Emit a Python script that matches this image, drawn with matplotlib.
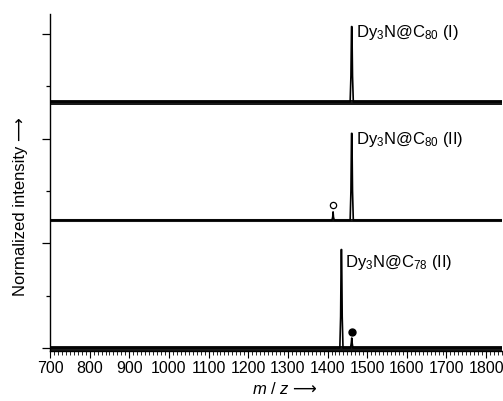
import matplotlib
matplotlib.use("Agg")
import matplotlib.pyplot as plt
from matplotlib.ticker import MultipleLocator

plt.rcParams['font.family'] = ['Liberation Sans', 'DejaVu Sans']
plt.rcParams['mathtext.fontset'] = 'custom'
plt.rcParams['mathtext.rm'] = 'Liberation Sans'
plt.rcParams['mathtext.it'] = 'Liberation Sans:italic'
plt.rcParams['mathtext.sf'] = 'DejaVu Sans'

# Spectra: m/z breakpoints and normalized intensity (offset stacked traces)
mz_c80_1 = [700, 1457, 1459, 1460.5, 1461.5, 1463, 1465, 1840]
int_c80_1 = [2.35, 2.35, 2.60, 3.07, 3.07, 2.60, 2.35, 2.35]

mz_c80_2 = [700, 1411, 1413, 1414, 1415, 1417, 1457, 1459, 1460.5, 1461.5, 1463, 1465, 1840]
int_c80_2 = [1.22, 1.22, 1.25, 1.30, 1.25, 1.22, 1.22, 1.50, 2.05, 2.05, 1.50, 1.22, 1.22]

mz_c78_2 = [700, 1431, 1433, 1434.5, 1435.5, 1437, 1439, 1458, 1460, 1461, 1462, 1464, 1840]
int_c78_2 = [0.0, 0.0, 0.30, 0.94, 0.94, 0.30, 0.0, 0.0, 0.05, 0.095, 0.05, 0.0, 0.0]

baselines = [2.35, 1.22, 0.0]
noise_width = [3.6, 2.2, 3.6]

labels = [r"Dy$_3$N@C$_{80}$ (I)", r"Dy$_3$N@C$_{80}$ (II)", r"Dy$_3$N@C$_{78}$ (II)"]
label_x = [1473, 1473, 1443]
label_y = [3.01, 1.99, 0.82]

marker_open = (1414, 1.37)
marker_filled = (1461, 0.15)

fig = plt.figure(figsize=(5.03, 4.01), dpi=100)
ax = fig.add_axes([0.0994, 0.1247, 0.8986, 0.8403])

for base, lw in zip(baselines, noise_width):
    ax.plot([700, 1840], [base, base], color='#1a1a1a', lw=lw, solid_capstyle='butt')

for mz, inten in [(mz_c80_1, int_c80_1), (mz_c80_2, int_c80_2), (mz_c78_2, int_c78_2)]:
    ax.plot(mz, inten, color='black', lw=1.2)

ax.plot(*marker_open, marker='o', ms=4.5, mfc='white', mec='black', mew=0.9)
ax.plot(*marker_filled, marker='o', ms=5, color='black')

for t, x, y in zip(labels, label_x, label_y):
    ax.text(x, y, t, fontsize=12, va='center', ha='left')

ax.set_xlim(700, 1840)
ax.set_ylim(-0.029, 3.19)
ax.xaxis.set_major_locator(MultipleLocator(100))
ax.xaxis.set_minor_locator(MultipleLocator(10))
ax.yaxis.set_major_locator(MultipleLocator(1))
ax.yaxis.set_minor_locator(MultipleLocator(0.5))
ax.set_yticklabels([])
ax.tick_params(axis='y', which='major', direction='out', length=6, width=0.9)
ax.tick_params(axis='y', which='minor', direction='out', length=3, width=0.9)
ax.tick_params(axis='x', which='major', direction='out', length=5, width=0.8, labelsize=11.5, pad=2)
ax.tick_params(axis='x', which='minor', direction='out', length=3, width=0.6)
for s in ['top', 'right']:
    ax.spines[s].set_visible(False)
for s in ['left', 'bottom']:
    ax.spines[s].set_linewidth(1.0)

ax.set_xlabel(r"$m$ / $z$ $\mathsf{⟶}$", fontsize=12, labelpad=2)
ax.xaxis.set_label_coords(0.52, -0.09)
ax.set_ylabel("Normalized intensity ⟶", fontsize=12, labelpad=8)
ax.yaxis.set_label_coords(-0.048, 0.43)

fig.savefig("out.png", dpi=100)
